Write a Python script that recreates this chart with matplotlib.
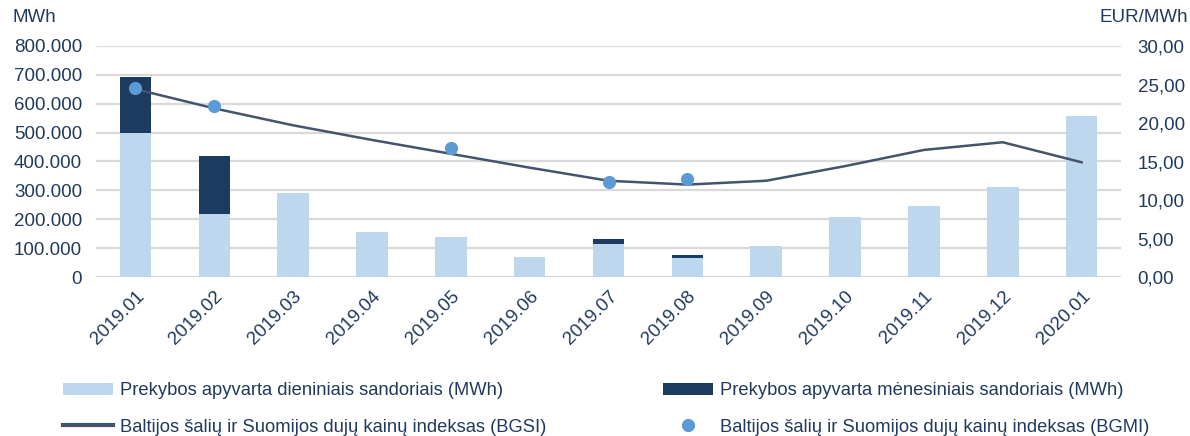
import matplotlib.pyplot as plt
import numpy as np
from matplotlib.ticker import FuncFormatter

plt.rcParams['font.family'] = ['Liberation Sans', 'DejaVu Sans']

# duomenys
months = ["2019.01", "2019.02", "2019.03", "2019.04", "2019.05", "2019.06", "2019.07",
          "2019.08", "2019.09", "2019.10", "2019.11", "2019.12", "2020.01"]
daily = [500000, 218000, 291000, 156000, 137000, 69000, 115000, 65000, 106000, 207000, 246000, 311000, 557000]
monthly = [192000, 201000, 0, 0, 2000, 0, 15000, 12000, 0, 0, 0, 0, 0]
bgsi = [24.4, 21.9, 19.7, 17.8, 16.0, 14.2, 12.5, 12.0, 12.5, 14.4, 16.5, 17.5, 14.9]
bgmi = [24.5, 22.2, np.nan, np.nan, 16.8, np.nan, 12.4, 12.7, np.nan, np.nan, np.nan, np.nan, np.nan]

c_light = '#BDD7EE'
c_dark = '#1C3B61'
c_line = '#44546A'
c_dot = '#5B9BD5'
c_text = '#213A5C'
c_grid = '#D9D9D9'

fig = plt.figure(figsize=(11.9, 4.36), dpi=100)
ax = fig.add_axes([96/1190, 1 - 277/436, (1121-96)/1190, (277-46)/436])
x = np.arange(len(months))

b1 = ax.bar(x, daily, width=0.4, color=c_light, zorder=2, label='Prekybos apyvarta dieniniais sandoriais (MWh)')
b2 = ax.bar(x, monthly, width=0.4, bottom=daily, color=c_dark, zorder=2, label='Prekybos apyvarta mėnesiniais sandoriais (MWh)')

ax.set_ylim(0, 800000)
ax.set_yticks(np.arange(0, 800001, 100000))
ax.yaxis.set_major_formatter(FuncFormatter(lambda v, p: f"{int(v):,}".replace(",", ".")))
ax.set_xlim(-0.5, len(months) - 0.5)
ax.set_xticks(x)
ax.set_xticklabels(months, rotation=45, ha='right', rotation_mode='anchor')
ax.grid(axis='y', color=c_grid, linewidth=1.6, zorder=0)
ax.set_axisbelow(True)
for s in ax.spines.values():
    s.set_visible(False)
ax.tick_params(length=0, labelsize=13.5, colors=c_text)
ax.tick_params(axis='y', pad=10)
ax.tick_params(axis='x', pad=8)

ax2 = ax.twinx()
ln, = ax2.plot(x, bgsi, color=c_line, linewidth=1.8, zorder=3, label='Baltijos šalių ir Suomijos dujų kainų indeksas (BGSI)')
dots, = ax2.plot(x, bgmi, 'o', color=c_dot, markersize=8.5, linestyle='none', zorder=4,
                 label='Baltijos šalių ir Suomijos dujų kainų indeksas (BGMI)')
ax2.set_ylim(0, 30)
ax2.set_yticks(np.arange(0, 31, 5))
ax2.yaxis.set_major_formatter(FuncFormatter(lambda v, p: f"{v:.2f}".replace(".", ",")))
for s in ax2.spines.values():
    s.set_visible(False)
ax2.tick_params(length=0, labelsize=13.5, colors=c_text, pad=12)

fig.text(13/1190, 1 - 18/436, "MWh", fontsize=13.5, color=c_text, va='center', ha='left')
fig.text(1188/1190, 1 - 18/436, "EUR/MWh", fontsize=13.5, color=c_text, va='center', ha='right')

# legenda: du stulpeliai
kw = dict(frameon=False, fontsize=13.2, labelcolor=c_text, handlelength=2.7,
          handletextpad=0.4, labelspacing=1.05, loc='upper left', borderaxespad=0)
leg1 = fig.legend([b1, ln], [b1.get_label(), ln.get_label()],
                  bbox_to_anchor=(56/1190, 1 - 375/436), **kw)
leg2 = fig.legend([b2, dots], [b2.get_label(), dots.get_label()],
                  bbox_to_anchor=(656/1190, 1 - 375/436), **kw)
for lg in (leg1, leg2):
    for h in lg.legend_handles:
        if hasattr(h, 'set_linewidth') and not hasattr(h, 'get_height'):
            h.set_linewidth(3)

plt.savefig('out.png', dpi=100)
plt.close()
